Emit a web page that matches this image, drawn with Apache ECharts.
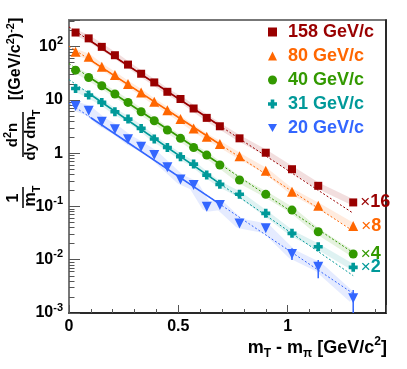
<!DOCTYPE html>
<html>
<head>
<meta charset="utf-8">
<script src="https://cdn.jsdelivr.net/npm/echarts@6/dist/echarts.min.js"></script>
<style>
  html, body { margin: 0; padding: 0; background: #fff; }
  #chart { width: 407px; height: 369px; }
</style>
</head>
<body>
<div id="chart"></div>
<script>
const FONT = '"Liberation Sans", Arial, Helvetica, sans-serif';

// bin centres in mT - m_pi [GeV/c^2]
const mtBins = [0.03, 0.09, 0.15, 0.21, 0.27, 0.33, 0.39, 0.45, 0.51, 0.57, 0.63, 0.69, 0.78, 0.90, 1.02, 1.14, 1.30];

// spectra as plotted (already multiplied by the scale factor)
const spec158 = [184, 143, 99, 69, 46, 31, 21.3, 14.2, 10.4, 6.9, 4.6, 3.2, 1.9, 1.02, 0.50, 0.244, 0.119];
const spec80 = [79.8, 64.4, 41.8, 29.2, 19.8, 13.8, 9.2, 6.4, 4.36, 2.92, 2.03, 1.48, 0.88, 0.468, 0.189, 0.103, 0.043];
const spec40 = [36.2, 26.4, 18.4, 12.9, 8.98, 5.98, 4.06, 2.71, 1.90, 1.28, 0.92, 0.60, 0.313, 0.169, 0.0855, 0.0335, 0.0128];
const spec31 = [16.4, 12.3, 8.98, 5.98, 4.36, 2.92, 1.84, 1.28, 0.855, 0.624, 0.388, 0.26, 0.169, 0.0743, 0.0313, 0.0175, 0.0072];
const spec20 = [7.65, 6.24, 3.88, 2.80, 1.82, 1.32, 0.92, 0.542, 0.322, 0.252, 0.0986, 0.106, 0.048, 0.0389, 0.0128, 0.0074, 0.0019];

// exponential fits: value at x = 0, start of fit, end of fit, end of extrapolation
const fitX = [0, 0.1, 0.7, 1.3];
const fit158 = [234, 126, 3.07, 0.0746];
const fit80 = [102, 55.3, 1.38, 0.0346];
const fit40 = [47.9, 25.5, 0.587, 0.01352];
const fit31 = [24.0, 12.5, 0.2506, 0.00502];
const fit20 = [8.71, 4.62, 0.1035, 0.00232];

// stat errors on the 20 GeV/c points where they stick out of the marker
const errX20 = [0.63, 1.02, 1.14, 1.30];
const errLo20 = [0.085, 0.0099, 0.0045, 0.001];
const errHi20 = [0.115, 0.0164, 0.0099, 0.0027];

const energies = ['158 GeV/c', '80 GeV/c', '40 GeV/c', '31 GeV/c', '20 GeV/c'];
const scaleFactors = ['16', '8', '4', '2', ''];

const colors = ['#990000', '#ff6600', '#339900', '#009999', '#3366ff'];
const CROSS = 'path://M3,0H7V3H10V7H7V10H3V7H0V3H3Z';
const DOWN = 'path://M0,0H10L5,9Z';
const symbols = ['rect', 'triangle', 'circle', CROSS, DOWN];
const symbolSizes = [8, 10, 9, 9, 10];
const legendIcons = ['rect', 'triangle', 'circle', CROSS, DOWN];

const specs = [spec158, spec80, spec40, spec31, spec20];
const fits = [fit158, fit80, fit40, fit31, fit20];

const series = [];
specs.forEach((spec, i) => {
  const color = colors[i];
  const last = spec.length - 1;
  // systematic band
  series.push({
    type: 'line', silent: true, z: 1, symbol: 'none',
    data: spec.map((v, k) => [mtBins[k], v]),
    lineStyle: { color, width: i === 4 ? 10 : 6, opacity: 0.13 },
  });
  // fit extrapolation
  series.push({
    type: 'line', silent: true, z: 2, symbol: 'none',
    data: [[fitX[0], fits[i][0]], [fitX[3], fits[i][3]]],
    lineStyle: { color, width: 1, type: [2, 2] },
  });
  // fit range
  series.push({
    type: 'line', silent: true, z: 3, symbol: 'none',
    data: [[fitX[1], fits[i][1]], [fitX[2], fits[i][2]]],
    lineStyle: { color, width: 1.6 },
  });
  series.push({
    name: energies[i], type: 'scatter', z: 5,
    symbol: symbols[i], symbolSize: symbolSizes[i],
    itemStyle: { color, opacity: 1 },
    data: spec.map((v, k) => {
      const item = { value: [mtBins[k], v] };
      if (k === last && scaleFactors[i]) {
        item.label = {
          show: true, position: 'right', distance: 3,
          formatter: '{x|\u00d7}{n|' + scaleFactors[i] + '}',
          rich: {
            x: { fontFamily: FONT, fontSize: 17, color },
            n: { fontFamily: FONT, fontSize: 18, fontWeight: 'bold', color },
          },
        };
      }
      return item;
    }),
  });
});

series.push({
  type: 'custom', z: 4, silent: true,
  data: errX20.map((x, k) => [x, errLo20[k], errHi20[k]]),
  renderItem: (params, api) => {
    const lo = api.coord([api.value(0), api.value(1)]);
    const hi = api.coord([api.value(0), api.value(2)]);
    return {
      type: 'line',
      shape: { x1: lo[0], y1: lo[1], x2: hi[0], y2: hi[1] },
      style: { stroke: colors[4], lineWidth: 1.5 },
    };
  },
});

const axisFont = { fontFamily: FONT, fontSize: 16, fontWeight: 'bold', color: '#000' };
const tickColor = '#555';

function titleText(x, y, text, size) {
  return {
    type: 'text', x, y,
    style: {
      text, fontFamily: FONT, fontSize: size, fontWeight: 'bold', fill: '#000',
      lineHeight: 22, align: 'center', verticalAlign: 'middle',
      rich: {
        s: { fontFamily: FONT, fontSize: 11, fontWeight: 'bold', fill: '#000', verticalAlign: 'top' },
        b: { fontFamily: FONT, fontSize: 11, fontWeight: 'bold', fill: '#000', verticalAlign: 'bottom' },
      },
    },
  };
}

const chart = echarts.init(document.getElementById('chart'), null, { renderer: 'canvas' });
chart.setOption({
  animation: false,
  backgroundColor: '#fff',
  grid: {
    left: 69, right: 21, top: 20, bottom: 56,
    show: true, borderColor: '#777', borderWidth: 2,
    containLabel: false, outerBoundsMode: 'none',
  },
  legend: {
    orient: 'vertical', left: 263, top: 18,
    itemWidth: 9, itemHeight: 9, itemGap: 6,
    selectedMode: false,
    textStyle: { fontFamily: FONT, fontSize: 18, fontWeight: 'bold', lineHeight: 18, padding: [0, 0, 0, 6] },
    data: energies.map((name, i) => ({
      name, icon: legendIcons[i],
      itemStyle: { color: colors[i] },
      textStyle: { color: colors[i] },
    })),
  },
  xAxis: {
    type: 'value', min: 0, max: 1.45, interval: 0.5,
    axisLine: { show: true, lineStyle: { color: '#111', width: 1.5 } },
    axisTick: { show: true, inside: true, length: 8, lineStyle: { color: tickColor, width: 1 } },
    minorTick: { show: true, splitNumber: 5, length: 4, lineStyle: { color: tickColor, width: 1 } },
    splitLine: { show: false },
    axisLabel: {
      ...axisFont, margin: 6, showMaxLabel: false,
      formatter: (v) => (Math.abs(v - 1.45) < 1e-9 ? '' : String(v)),
    },
  },
  yAxis: [{
    type: 'log', logBase: 10, min: 0.001, max: 316.2,
    axisLine: { show: true, lineStyle: { color: '#777', width: 2 } },
    axisTick: { show: true, inside: true, length: 11, lineStyle: { color: tickColor, width: 1 } },
    minorTick: { show: true, splitNumber: 9, length: 5.5, lineStyle: { color: tickColor, width: 1 } },
    splitLine: { show: false },
    axisLabel: {
      ...axisFont, margin: 6, lineHeight: 22, showMaxLabel: false,
      formatter: (v) => {
        const e = Math.round(Math.log10(v));
        if (Math.abs(Math.log10(v) - e) > 1e-6) return '';
        if (e === 0) return '1';
        if (e === 1) return '10';
        return '10{s|' + (e < 0 ? '-' : '') + Math.abs(e) + '}';
      },
      rich: { s: { fontFamily: FONT, fontSize: 11, fontWeight: 'bold', color: '#000', verticalAlign: 'top' } },
    },
  }, {
    type: 'log', logBase: 10, min: 0.001, max: 316.2, position: 'right',
    axisLine: { show: true, lineStyle: { color: '#111', width: 1.5 } },
    axisTick: { show: false }, axisLabel: { show: false }, splitLine: { show: false },
  }],
  graphic: [{
    // y title, laid out unrotated then turned to read bottom-to-top
    type: 'group', x: 0, y: 215, rotation: Math.PI / 2, silent: true,
    children: [
      titleText(17, 14, '1', 16),
      { type: 'line', shape: { x1: 7, y1: 23, x2: 28, y2: 23 }, style: { stroke: '#000', lineWidth: 1.5 } },
      titleText(19, 31, 'm{b|T}', 16),
      titleText(80, 13, 'd{s|2}n', 15),
      { type: 'line', shape: { x1: 58, y1: 23, x2: 103, y2: 23 }, style: { stroke: '#000', lineWidth: 1.5 } },
      titleText(80, 31, 'dy dm{b|T}', 15),
      titleText(156, 16, '[(GeV/c{s|2}){s|-2}]', 16),
    ],
  }, {
    type: 'text', x: 387, y: 348, silent: true,
    style: {
      text: 'm{b|T} - m{b|\u03c0} [GeV/c{s|2}]', fontFamily: FONT, fontSize: 18, fontWeight: 'bold', fill: '#000',
      lineHeight: 24, align: 'right', verticalAlign: 'middle',
      rich: {
        b: { fontFamily: FONT, fontSize: 12, fontWeight: 'bold', fill: '#000', verticalAlign: 'bottom' },
        s: { fontFamily: FONT, fontSize: 12, fontWeight: 'bold', fill: '#000', verticalAlign: 'top' },
      },
    },
  }],
  series,
});
</script>
</body>
</html>
